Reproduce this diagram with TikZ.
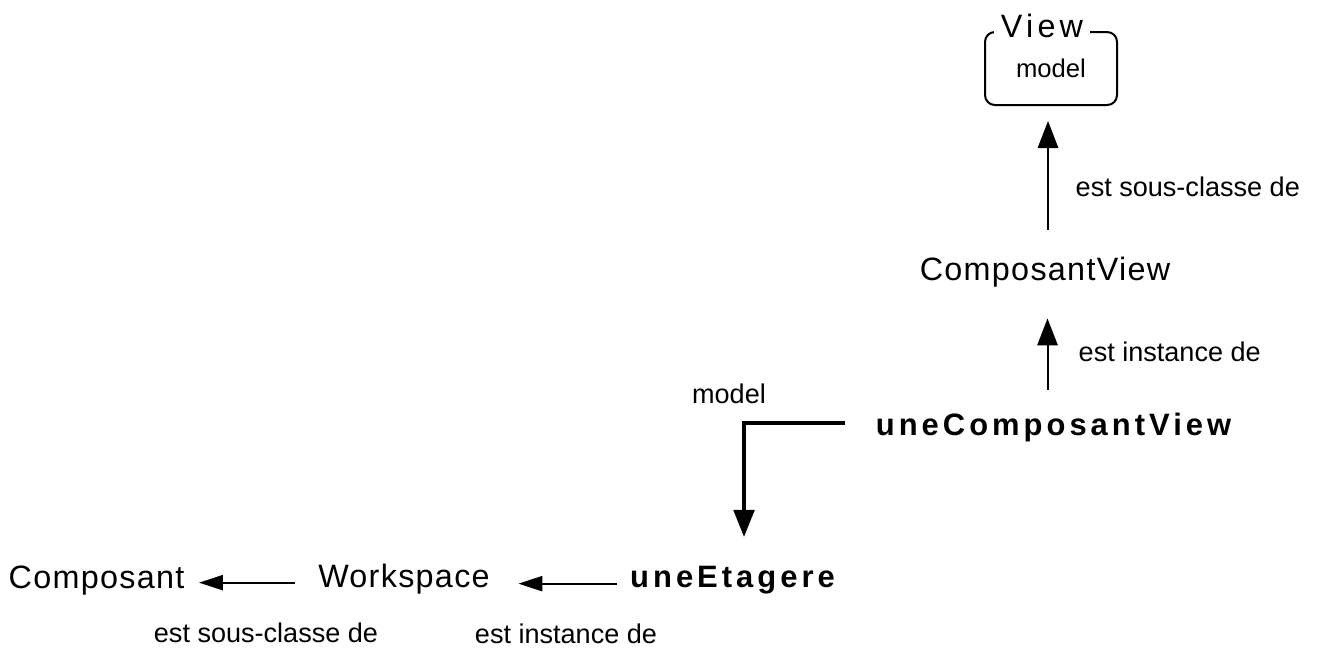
\documentclass[tikz,border=0pt]{standalone}
\usepackage{fontspec}
\setmainfont{Liberation Sans}
\newfontfamily\nomfont[LetterSpace=4]{Liberation Sans}
\newfontfamily\objetfont[LetterSpace=13]{Liberation Sans}
\usetikzlibrary{arrows.meta}

\begin{document}
\begin{tikzpicture}[
    classe/.style={inner sep=0pt,font=\nomfont\fontsize{9.2pt}{11pt}\selectfont},
    objet/.style={inner sep=0pt,font=\objetfont\bfseries\fontsize{8.8pt}{10pt}\selectfont},
    lien/.style={inner sep=0pt,font=\fontsize{7.7pt}{9pt}\selectfont},
    vfleche/.style={line width=0.57pt,-{Triangle[length=7.7pt,width=5.8pt]}},
    hfleche/.style={line width=0.57pt,-{Triangle[length=6.8pt,width=4.3pt]}},
    mfleche/.style={line width=1.1pt,-{Triangle[length=7.7pt,width=5.8pt]}},
  ]
    \useasboundingbox (0,0) rectangle (13.17,-6.54);
    % la classe View
    \node[draw,line width=0.57pt,rounded corners=2.8pt,minimum width=1.32cm,minimum height=0.73cm,
      inner sep=0pt,font=\fontsize{7.3pt}{9pt}\selectfont] (view) at (10.51,-0.685) {model};
    \node[classe,fill=white,inner xsep=2pt,font=\objetfont\fontsize{9.2pt}{11pt}\selectfont] (viewnom) at (10.42,-0.26) {View};
    % classes et instances
    \node[classe,anchor=base] (cv) at (10.45,-2.80) {ComposantView};
    \node[objet,anchor=base] (ucv) at (10.535,-4.35) {uneComposantView};
    \node[objet,anchor=base] (ueta) at (7.325,-5.87) {uneEtagere};
    \node[classe,anchor=base] (ws) at (4.04,-5.87) {Workspace};
    \node[classe,anchor=base] (comp) at (0.965,-5.88) {Composant};
    \coordinate (coude) at (7.44,-4.23);
    % liens
    \draw[vfleche,shorten <=0.26cm,shorten >=0.15cm] ([xshift=0.3mm]cv.north) -- ([xshift=0.3mm]cv.north |- view.south);
    \draw[vfleche,shorten <=0.22cm,shorten >=0.31cm] ([xshift=-0.6mm]ucv.north) -- ([xshift=-0.6mm]ucv.north |- cv.south);
    \draw[mfleche,shorten <=0.3cm,shorten >=0.28cm] (coude -| ucv.west) -- (coude) -- (coude |- ueta.north);
    \draw[hfleche,shorten <=0.12cm,shorten >=0.28cm] ([yshift=-0.4mm]ueta.west) -- ([yshift=-0.4mm]ueta.west -| ws.east);
    \draw[hfleche,shorten <=0.23cm,shorten >=0.14cm] ([yshift=-0.4mm]ws.west) -- ([yshift=-0.4mm]ws.west -| comp.east);
    % etiquettes
    \node[lien,anchor=west] (l1) at (10.75,-1.87) {est sous-classe de};
    \node[lien,anchor=west] (l2) at (10.78,-3.52) {est instance de};
    \node[lien] (l3) at (7.29,-3.935) {model};
    \node[lien] (l4) at (2.66,-6.33) {est sous-classe de};
    \node[lien] (l5) at (5.66,-6.34) {est instance de};
\end{tikzpicture}
\end{document}
